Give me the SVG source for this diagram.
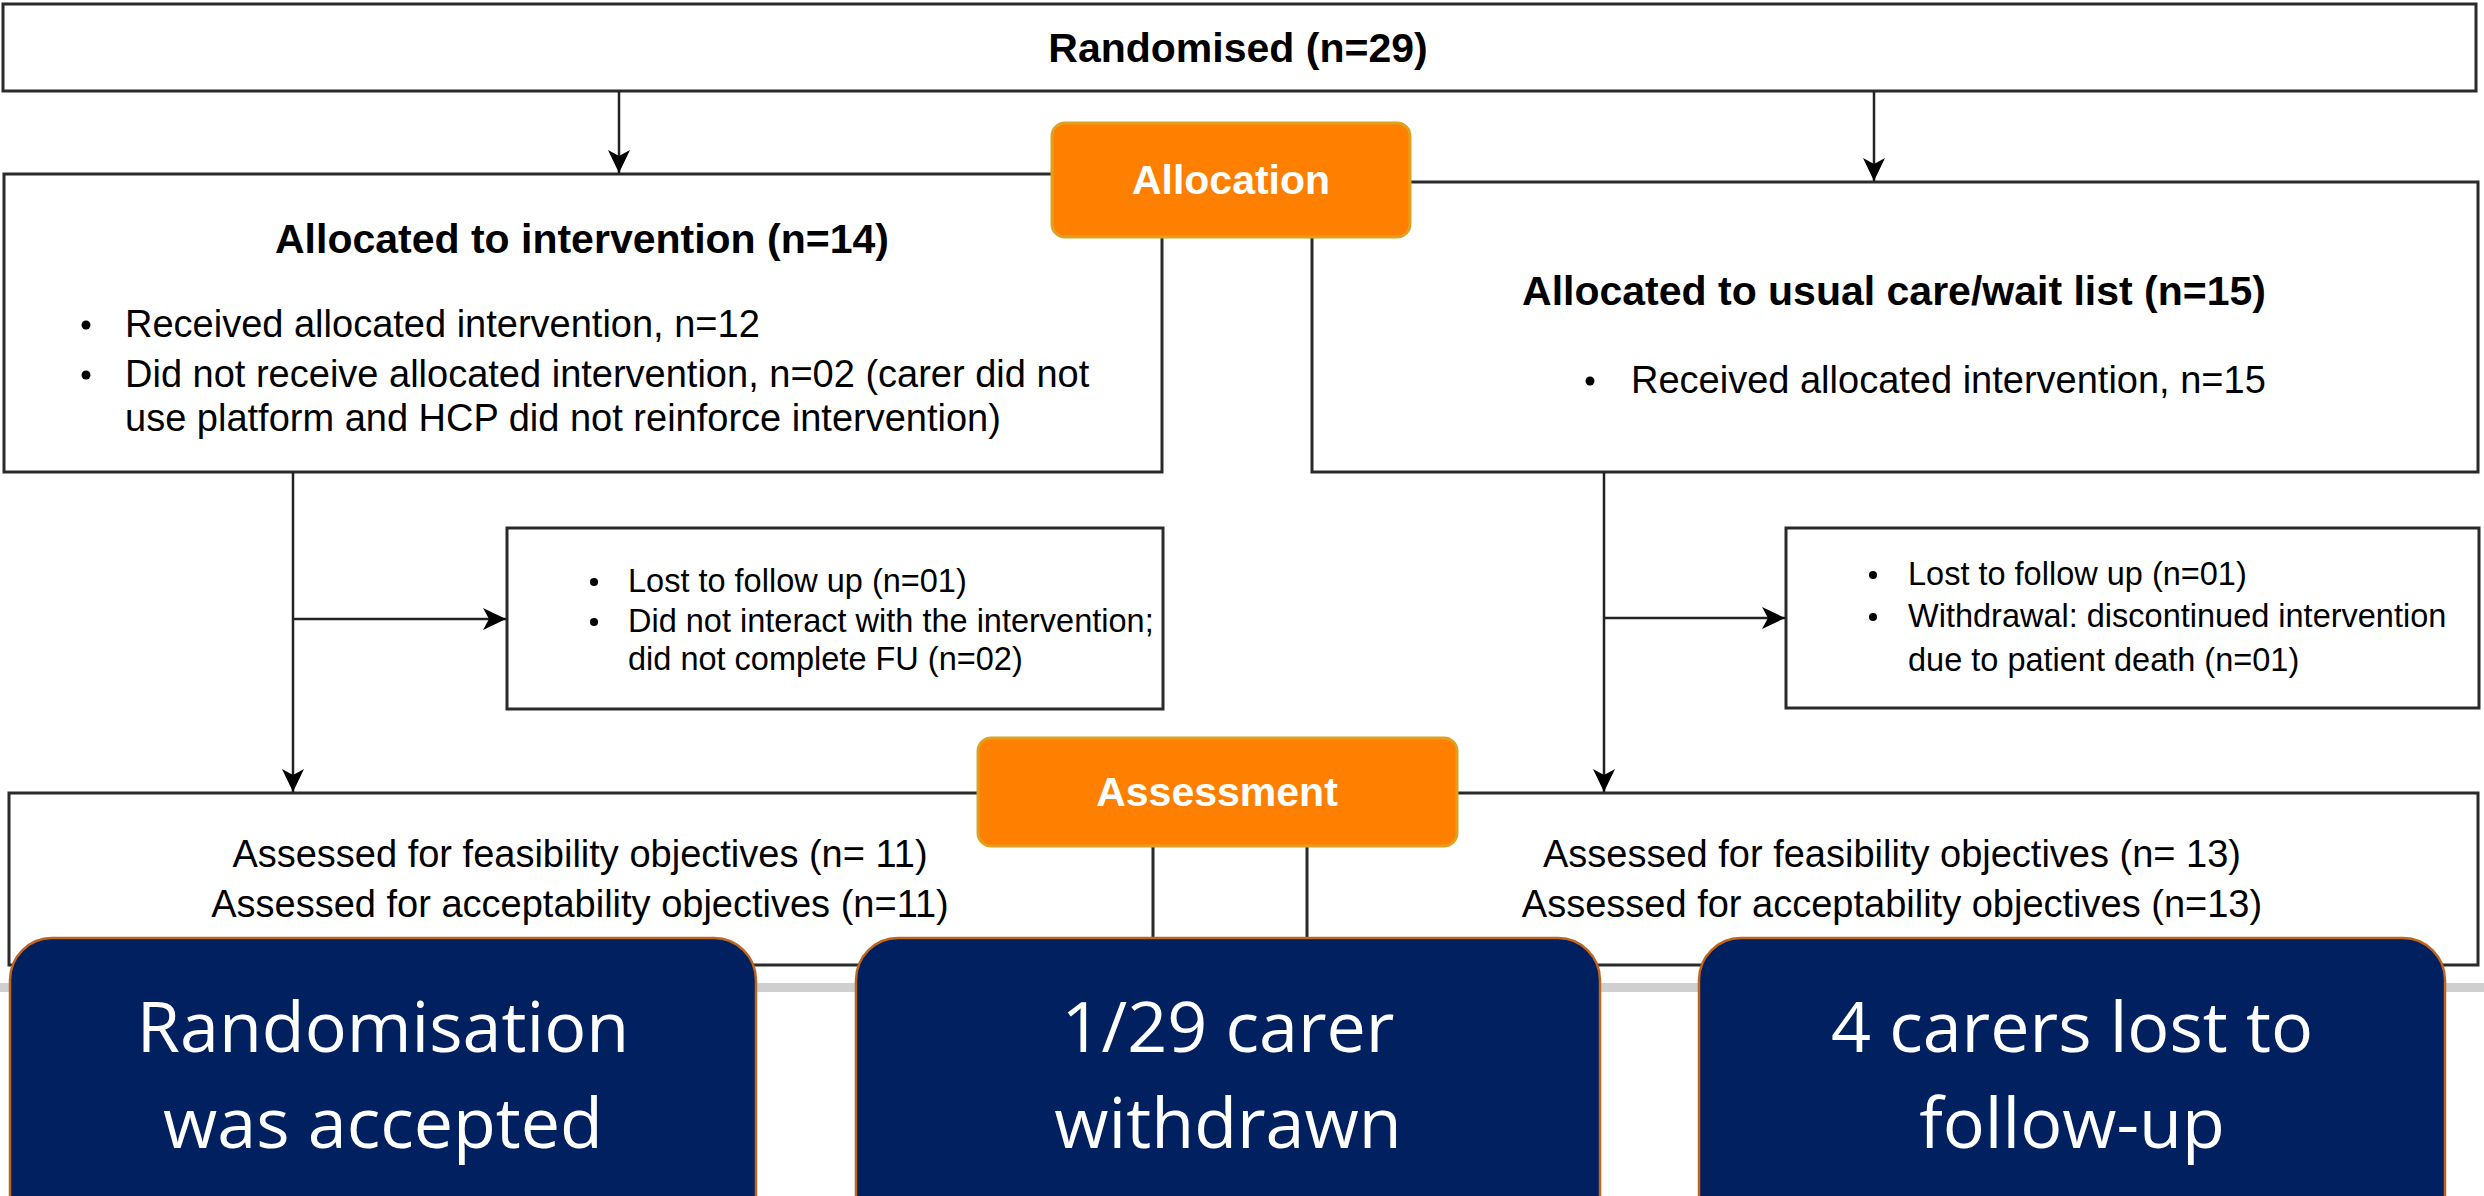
<svg xmlns="http://www.w3.org/2000/svg" width="2484" height="1196" viewBox="0 0 2484 1196">
<defs>
<marker id="arr" markerUnits="userSpaceOnUse" markerWidth="24" markerHeight="24" refX="23" refY="12" orient="auto">
<path d="M0,1 L23,12 L0,23 L6,12 Z" fill="#000"/>
</marker>
<style>
.box{fill:#fff;stroke:#2a2a2a;stroke-width:3}
.org{fill:#ff8000;stroke:#e0a020;stroke-width:3}
.navy{fill:#002060;stroke:#c0651f;stroke-width:2.5}
.t{font-family:"Liberation Sans",Arial,sans-serif;fill:#000}
.b{font-weight:bold;font-size:41px}
.r{font-size:38px}
.s{font-size:32.5px}
.w{font-family:"Liberation Sans",Arial,sans-serif;font-weight:bold;font-size:41px;fill:#fff}
.big{font-family:"Open Sans",sans-serif;font-size:70px;fill:#fff}
.c{fill:none;stroke:#222;stroke-width:2.5}
</style>
</defs>
<rect x="0" y="983" width="2484" height="9" fill="#cfcfcf"/>
<g id="randomised">
<rect class="box" x="3" y="4" width="2473" height="87"/>
<text class="t b" x="1238" y="62" text-anchor="middle">Randomised (n=29)</text>
</g>
<g id="alloc-intervention">
<rect class="box" x="4" y="174" width="1158" height="298"/>
<text class="t b" x="582" y="253" text-anchor="middle">Allocated to intervention (n=14)</text>
<circle cx="86" cy="325" r="4.5"/>
<text class="t r" x="125" y="337">Received allocated intervention, n=12</text>
<circle cx="86" cy="375" r="4.5"/>
<text class="t r" x="125" y="387">Did not receive allocated intervention, n=02 (carer did not</text>
<text class="t r" x="125" y="431">use platform and HCP did not reinforce intervention)</text>
</g>
<g id="alloc-usual">
<rect class="box" x="1312" y="182" width="1166" height="290"/>
<text class="t b" x="1894" y="305" text-anchor="middle">Allocated to usual care/wait list (n=15)</text>
<circle cx="1590" cy="381" r="4.5"/>
<text class="t r" x="1631" y="393">Received allocated intervention, n=15</text>
</g>
<g id="loss-left">
<rect class="box" x="507" y="528" width="656" height="181"/>
<circle cx="594" cy="582" r="4"/>
<text class="t s" x="628" y="592">Lost to follow up (n=01)</text>
<circle cx="594" cy="622" r="4"/>
<text class="t s" x="628" y="632">Did not interact with the intervention;</text>
<text class="t s" x="628" y="670">did not complete FU (n=02)</text>
</g>
<g id="loss-right">
<rect class="box" x="1786" y="528" width="693" height="180"/>
<circle cx="1873" cy="575" r="4"/>
<text class="t s" x="1908" y="585">Lost to follow up (n=01)</text>
<circle cx="1873" cy="617" r="4"/>
<text class="t s" x="1908" y="627">Withdrawal: discontinued intervention</text>
<text class="t s" x="1908" y="671">due to patient death (n=01)</text>
</g>
<g id="assess-left">
<rect class="box" x="9" y="793" width="1144" height="172"/>
<text class="t r" x="580" y="867" text-anchor="middle">Assessed for feasibility objectives (n= 11)</text>
<text class="t r" x="580" y="917" text-anchor="middle">Assessed for acceptability objectives (n=11)</text>
</g>
<g id="assess-right">
<rect class="box" x="1307" y="793" width="1171" height="172"/>
<text class="t r" x="1892" y="867" text-anchor="middle">Assessed for feasibility objectives (n= 13)</text>
<text class="t r" x="1892" y="917" text-anchor="middle">Assessed for acceptability objectives (n=13)</text>
</g>
<g id="connectors">
<path class="c" d="M619,91 V173" marker-end="url(#arr)"/>
<path class="c" d="M1874,91 V181" marker-end="url(#arr)"/>
<path class="c" d="M293,472 V792" marker-end="url(#arr)"/>
<path class="c" d="M293,619 H506" marker-end="url(#arr)"/>
<path class="c" d="M1604,472 V792" marker-end="url(#arr)"/>
<path class="c" d="M1604,618 H1785" marker-end="url(#arr)"/>
</g>
<g id="allocation">
<rect class="org" x="1052" y="123" width="358" height="114" rx="13"/>
<text class="w" x="1231" y="194" text-anchor="middle">Allocation</text>
</g>
<g id="assessment">
<rect class="org" x="978" y="738" width="479" height="108" rx="13"/>
<text class="w" x="1217" y="806" text-anchor="middle">Assessment</text>
</g>
<g id="key-1">
<rect class="navy" x="10" y="938" width="746" height="320" rx="42"/>
<text class="big" x="383" y="1052" text-anchor="middle">Randomisation</text>
<text class="big" x="383" y="1148" text-anchor="middle">was accepted</text>
</g>
<g id="key-2">
<rect class="navy" x="856" y="938" width="744" height="320" rx="42"/>
<text class="big" x="1228" y="1052" text-anchor="middle">1/29 carer</text>
<text class="big" x="1228" y="1148" text-anchor="middle">withdrawn</text>
</g>
<g id="key-3">
<rect class="navy" x="1699" y="938" width="746" height="320" rx="42"/>
<text class="big" x="2072" y="1052" text-anchor="middle">4 carers lost to</text>
<text class="big" x="2072" y="1148" text-anchor="middle">follow-up</text>
</g>
</svg>
